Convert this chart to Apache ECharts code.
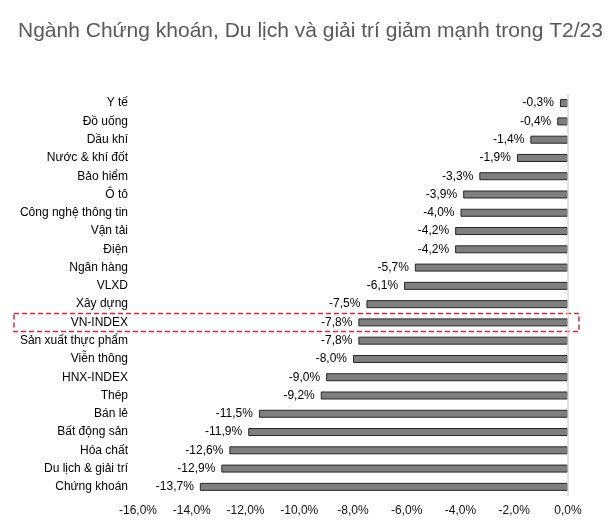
<!DOCTYPE html>
<html><head><meta charset="utf-8">
<script src="https://cdn.jsdelivr.net/npm/echarts@6/dist/echarts.min.js"></script>
<style>html,body{margin:0;padding:0;background:#fff}#c{width:614px;height:522px}</style>
</head><body><div id="c"></div>
<script>
const titleText = 'Ngành Chứng khoán, Du lịch và giải trí giảm mạnh trong T2/23';
const categories = ['Y tế','Đồ uống','Dầu khí','Nước & khí đốt','Bảo hiểm','Ô tô','Công nghệ thông tin','Vận tải','Điện','Ngân hàng','VLXD','Xây dựng','VN-INDEX','Sản xuất thực phẩm','Viễn thông','HNX-INDEX','Thép','Bán lẻ','Bất động sản','Hóa chất','Du lịch & giải trí','Chứng khoán'];
const values = [-0.3,-0.4,-1.4,-1.9,-3.3,-3.9,-4.0,-4.2,-4.2,-5.7,-6.1,-7.5,-7.8,-7.8,-8.0,-9.0,-9.2,-11.5,-11.9,-12.6,-12.9,-13.7];
const highlight = 'VN-INDEX';
const fmt = v => v.toFixed(1).replace('.', ',') + '%';
const chart = echarts.init(document.getElementById('c'), null, {renderer:'canvas'});
const FONT = '"Liberation Sans", Arial, sans-serif';
chart.setOption({
  animation:false,
  title:{text:titleText,left:13,top:16,textStyle:{fontFamily:FONT,fontSize:21,fontWeight:'normal',color:'#595959'}},
  grid:{left:138,right:46,top:94,bottom:26},
  xAxis:{type:'value',min:-16,max:0,interval:2,
    axisLine:{show:false},axisTick:{show:false},splitLine:{show:false},
    axisLabel:{formatter:fmt,fontFamily:FONT,fontSize:12,color:'#111',margin:9}},
  yAxis:{type:'category',data:categories,inverse:true,
    axisLine:{show:false,onZero:false},axisTick:{show:false},
    axisLabel:{fontFamily:FONT,fontSize:12,color:'#000',margin:10}},
  series:[{type:'bar',data:values,barWidth:8,
    itemStyle:{color:'#7f7f7f',borderColor:'#262626',borderWidth:1},
    label:{show:true,position:'left',distance:6,formatter:p=>fmt(p.value),fontFamily:FONT,fontSize:12,color:'#000'},
    markLine:{silent:true,symbol:'none',label:{show:false},lineStyle:{color:'#d9d9d9',type:'solid',width:1.5},data:[{xAxis:0}]}
  }]
});
const cy = chart.convertToPixel({yAxisIndex:0}, highlight);
const x0 = chart.convertToPixel({xAxisIndex:0}, 0);
chart.setOption({graphic:[{type:'rect',shape:{x:14,y:cy-9,width:x0+11-14,height:18},
  style:{fill:'none',stroke:'#d02b38',lineWidth:1.5,lineDash:[5,3]}}]});
</script></body></html>
